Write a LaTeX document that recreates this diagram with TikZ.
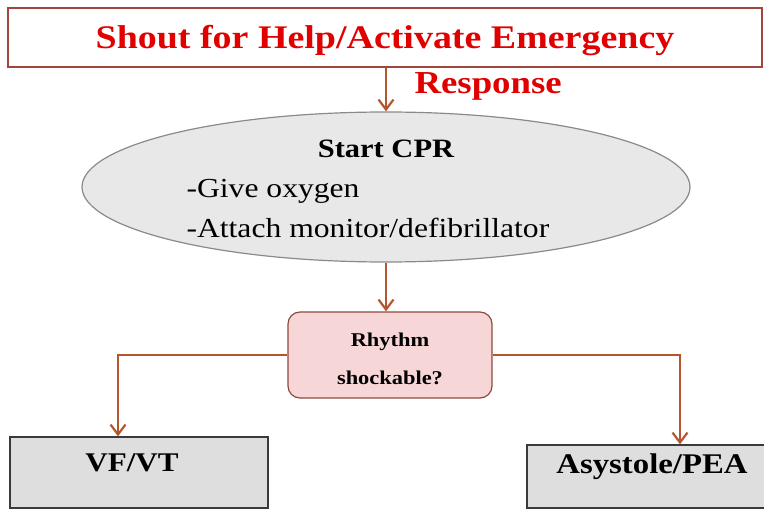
\documentclass[tikz,border=0pt]{standalone}
\usepackage{fontspec}
\setmainfont[FakeStretch=1.15]{Liberation Serif}
\usetikzlibrary{shapes.geometric,arrows.meta}
\definecolor{arrowbrown}{HTML}{B4552D}
\definecolor{titlered}{HTML}{E00000}
\definecolor{topborder}{HTML}{A0463C}
\definecolor{ellfill}{HTML}{E8E8E8}
\definecolor{ellborder}{HTML}{8A8A8A}
\definecolor{pinkfill}{HTML}{F6D6D6}
\definecolor{pinkborder}{HTML}{8E4A3C}
\definecolor{boxfill}{HTML}{DEDEDE}
\definecolor{boxborder}{HTML}{3A3A3A}
\tikzset{
  arr/.style={draw=arrowbrown, line width=2.2pt, -{Straight Barb[length=10pt,width=15pt,line width=2.2pt]}},
  outbox/.style={rectangle, draw=boxborder, fill=boxfill, line width=1.2pt, inner sep=0pt},
}
\begin{document}
\begin{tikzpicture}[x=1pt,y=-1pt]
\useasboundingbox (0,0) rectangle (764,511);
% top box
\node[rectangle, draw=topborder, line width=1.2pt, minimum width=754pt, minimum height=59pt, inner sep=0pt] (top) at (385,37.5) {};
\node[text=titlered, font=\fontsize{33}{36}\selectfont\bfseries] (title) at (385,41) {Shout for Help/Activate Emergency};
\node[text=titlered, font=\fontsize{32}{36}\selectfont\bfseries, anchor=west] (resp) at (411,86) {Response};
% ellipse
\node[ellipse, draw=ellborder, fill=ellfill, line width=1.2pt, minimum width=608pt, minimum height=150pt, inner sep=0pt] (cpr) at (386,187) {};
\node[font=\fontsize{26.5}{28}\selectfont\bfseries] (start) at (386,149) {Start CPR};
\node[font=\fontsize{27.5}{30}\selectfont, anchor=west] (oxy) at (183,191) {-Give oxygen};
\node[font=\fontsize{27.5}{30}\selectfont, anchor=west] (att) at (183,228) {-Attach monitor/defibrillator};
% rhythm
\node[rectangle, rounded corners=12pt, draw=pinkborder, fill=pinkfill, line width=1.2pt, minimum width=204pt, minimum height=86pt, inner sep=0pt] (rhythm) at (390,355) {};
\node[align=center, font=\fontsize{19.5}{38}\selectfont\bfseries] (rtext) at (390,359) {Rhythm\\shockable?};
% bottom boxes
\node[outbox, minimum width=258pt, minimum height=71pt] (vf) at (139,472.5) {};
\node[font=\fontsize{27}{30}\selectfont\bfseries] (vft) at (132,463) {VF/VT};
\node[outbox, minimum width=240pt, minimum height=63pt] (asy) at (647,476.5) {};
\node[font=\fontsize{28.5}{30}\selectfont\bfseries] (asyt) at (652,467) {Asystole/PEA};
% connectors
\draw[arr] (top.south -| cpr.north) -- (cpr.north);
\draw[arr] (cpr.south) -- (cpr.south |- rhythm.north);
\coordinate (lturn) at (118,355);
\coordinate (rturn) at (680,355);
\draw[arr] (rhythm.west) -- (lturn) -- (lturn |- vf.north);
\draw[arr] (rhythm.east) -- (rturn) -- (rturn |- asy.north);
\end{tikzpicture}
\end{document}
